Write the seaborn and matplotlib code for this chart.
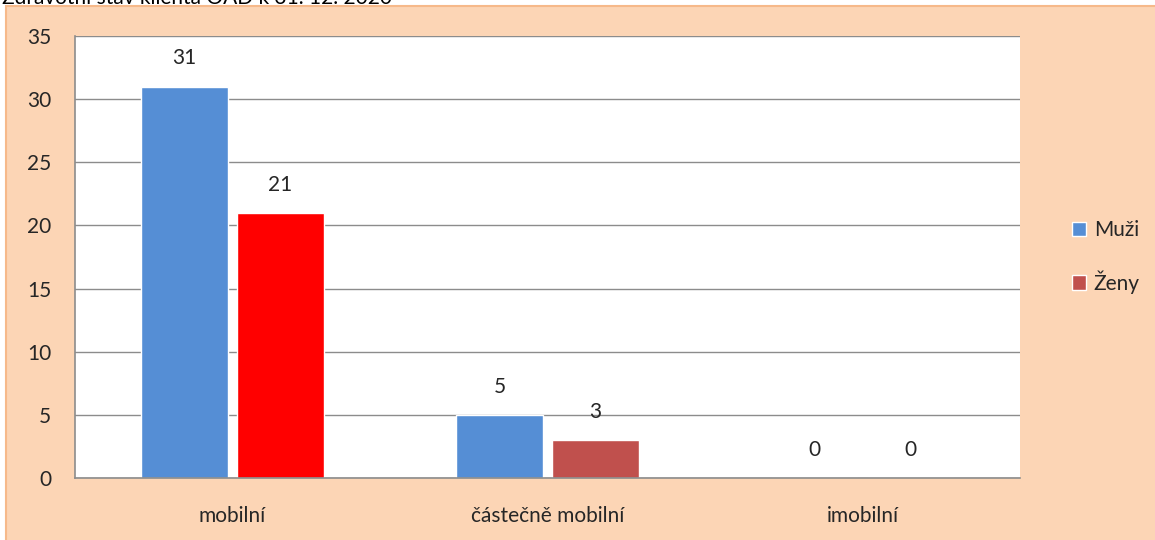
import numpy as np
import pandas as pd
import matplotlib
matplotlib.use("Agg")
import matplotlib.pyplot as plt
from matplotlib.patches import Rectangle
import seaborn as sns

# data
categories = ["mobilní", "částečně mobilní", "imobilní"]
muzi = [31, 5, 0]
zeny = [21, 3, 0]
series = ["Muži", "Ženy"]
title = "Zdravotní stav klienta OAD k 31. 12. 2020"

df = pd.DataFrame({
    "kategorie": categories * 2,
    "pocet": muzi + zeny,
    "pohlavi": [series[0]] * len(muzi) + [series[1]] * len(zeny),
})

blue = "#558ED5"
red_dark = "#C0504D"
red_bright = "#FF0000"
panel = "#FCD5B5"
grid_col = "#8C8C8C"

sns.set_style("white")
plt.rcParams["font.family"] = ["Lato", "DejaVu Sans"]
fs = 15

W, H = 1155, 540
fig = plt.figure(figsize=(W / 100, H / 100), dpi=100)
fig.patch.set_facecolor("white")
fig.patches.append(Rectangle((6 / W, -0.01), 1.0, 1 - 6 / H + 0.01, transform=fig.transFigure,
                             facecolor=panel, edgecolor="#F6B98A", linewidth=1.5, zorder=-5))
# title is clipped by the top edge in the reference
fig.text(2 / W, 1 - 4 / H, title, fontsize=15, va="baseline", ha="left", color="black")

ax = fig.add_axes([75 / W, (H - 478) / H, 945 / W, (478 - 36) / H])
ax.set_facecolor("white")
sns.barplot(data=df, x="kategorie", y="pocet", hue="pohlavi", order=categories,
            hue_order=series, palette=[blue, red_dark], width=0.606, gap=0.086,
            saturation=1, ax=ax, legend=True)

# first female bar is bright red in the reference
ax.containers[1].patches[0].set_facecolor(red_bright)

for c in ax.containers:
    ax.bar_label(c, labels=[str(int(v)) for v in c.datavalues], padding=13, fontsize=fs)

ax.set_ylim(0, 35)
ax.set_xlim(-0.5, 2.5)
ax.set_yticks(range(0, 36, 5))
ax.yaxis.grid(True, color=grid_col, linewidth=1)
ax.set_axisbelow(True)
ax.set_xlabel("")
ax.set_ylabel("")
ax.set_xticks([0, 1, 2])
ax.set_xticklabels(categories, fontsize=fs)
ax.set_xticks([-0.5, 0.5, 1.5, 2.5], minor=True)
ax.tick_params(axis="x", which="major", length=0, pad=20)
ax.tick_params(axis="x", which="minor", length=6, color=grid_col, width=1)
ax.tick_params(axis="y", length=7, color=grid_col, width=1, labelsize=fs, pad=10)
for s in ["top", "right"]:
    ax.spines[s].set_visible(False)
for s in ["left", "bottom"]:
    ax.spines[s].set_color(grid_col)
    ax.spines[s].set_linewidth(1.2)

leg = ax.legend(loc="center left", bbox_to_anchor=(1.035, 0.5), frameon=False,
                fontsize=fs, handlelength=0.7, handleheight=0.7, handletextpad=0.35,
                labelspacing=1.45)
leg.legend_handles[1].set_facecolor(red_dark)

fig.savefig("out.png", dpi=100, facecolor=fig.get_facecolor())
